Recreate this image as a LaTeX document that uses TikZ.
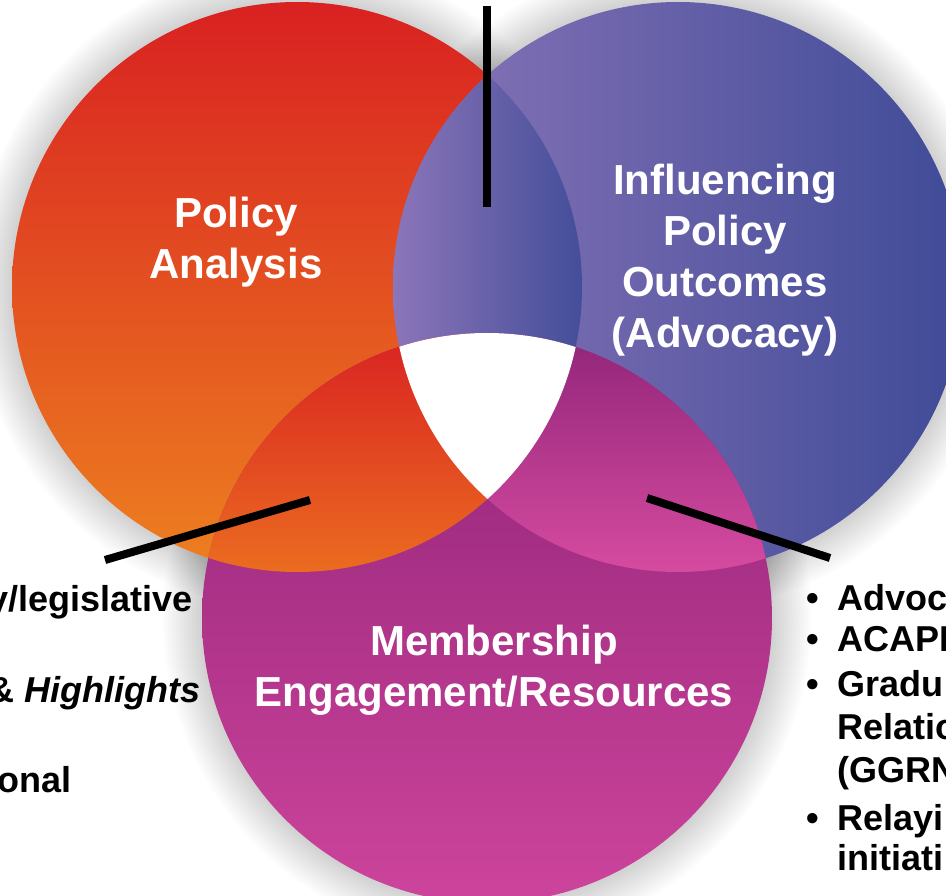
\documentclass[tikz,border=0pt]{standalone}
\usepackage{fontspec}
\setmainfont{Liberation Sans}
\definecolor{cAt}{HTML}{D92121}
\definecolor{cAb}{HTML}{ED8020}
\definecolor{cBl}{HTML}{8B75B9}
\definecolor{cBr}{HTML}{3F4B97}
\definecolor{cCt}{HTML}{8F2378}
\definecolor{cCb}{HTML}{CD449B}
\definecolor{lABl}{HTML}{8C75B9}
\definecolor{lABr}{HTML}{434E99}
\definecolor{lACt}{HTML}{D92222}
\definecolor{lACb}{HTML}{EB6C20}
\definecolor{lBCt}{HTML}{912579}
\definecolor{lBCb}{HTML}{D64BA0}
\begin{document}
\begin{tikzpicture}[x=1pt,y=-1pt,
  glowring/.style={fill=black,fill opacity=0.011},
  callout/.style={line width=8pt,black},
  lab/.style={text=white,font=\bfseries\fontsize{42}{51}\selectfont,align=center,inner sep=0pt},
  side/.style={text=black,font=\bfseries\fontsize{36}{43}\selectfont,inner sep=0pt}]
\useasboundingbox (0,0) rectangle (946,896);
\fill[white] (0,0) rectangle (946,896);
\coordinate (A) at (297,287);
\coordinate (B) at (678,287);
\coordinate (C) at (487,618);
% soft glow round the circles
\foreach \k in {1,...,15}{
  \fill[glowring] (A) circle ({285+2.6*\k});
  \fill[glowring] (B) circle ({285+2.6*\k});
  \fill[glowring] (C) circle ({285+2.6*\k});
}
% circles
\shade[top color=cAt,bottom color=cAb] (A) circle (285pt);
\shade[left color=cBl,right color=cBr] (B) circle (285pt);
\shade[top color=cCt,bottom color=cCb] (C) circle (285pt);
% lenses
\begin{scope}
  \clip (A) circle (285pt);
  \clip (B) circle (285pt);
  \shade[left color=lABl,right color=lABr] (393,74) rectangle (582,500);
\end{scope}
\begin{scope}
  \clip (A) circle (285pt);
  \clip (C) circle (285pt);
  \shade[top color=lACt,bottom color=lACb] (200,333) rectangle (490,573);
\end{scope}
\begin{scope}
  \clip (B) circle (285pt);
  \clip (C) circle (285pt);
  \shade[top color=lBCt,bottom color=lBCb] (484,333) rectangle (775,573);
\end{scope}
\begin{scope}
  \clip (A) circle (285pt);
  \clip (B) circle (285pt);
  \fill[white] (C) circle (285pt);
\end{scope}
% labels
\node[lab] (pa) at (236,242) {Policy\\Analysis};
\node[lab] (ipo) at (725,260) {Influencing\\Policy\\Outcomes\\(Advocacy)};
\node[lab] (me) at (494,670) {Membership\\Engagement/Resources};
% callout lines
\coordinate (t1) at (487,6);
\coordinate (t2) at (487,207);
\coordinate (l1a) at (310,500);
\coordinate (l1b) at (105,560);
\coordinate (r1a) at (647,498);
\coordinate (r1b) at (830,558);
\draw[callout] (t1) -- (t2);
\draw[callout] (l1a) -- (l1b);
\draw[callout] (r1a) -- (r1b);
% left text
\node[side,anchor=base east] (lt1) at (193,611) {y/legislative};
\node[side,anchor=base east] (lt2) at (201,702) {\& \textit{Highlights}};
\node[side,anchor=base east] (lt3) at (72,792) {onal};
% right text
\node[side,anchor=base west] (rt1) at (806,610) {\makebox[31pt][l]{\textbullet}Advoc};
\node[side,anchor=base west] (rt2) at (806,651) {\makebox[31pt][l]{\textbullet}ACAPI};
\node[side,anchor=base west] (rt3) at (806,696) {\makebox[31pt][l]{\textbullet}Gradu};
\node[side,anchor=base west] (rt4) at (837,739) {Relatio};
\node[side,anchor=base west] (rt5) at (837,782) {(GGRN};
\node[side,anchor=base west] (rt6) at (806,830) {\makebox[31pt][l]{\textbullet}Relayi};
\node[side,anchor=base west] (rt7) at (837,870) {initiati};
\end{tikzpicture}
\end{document}
